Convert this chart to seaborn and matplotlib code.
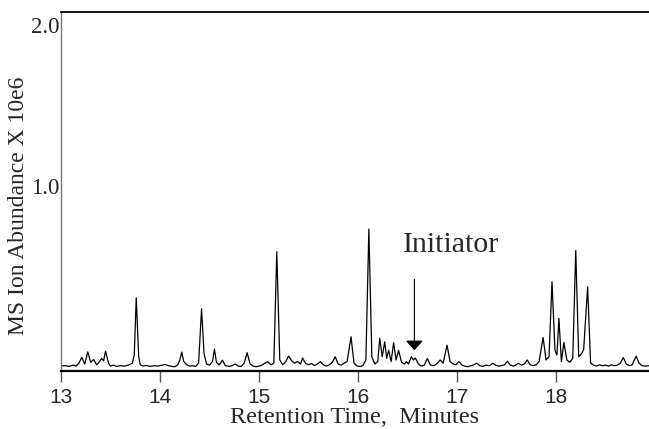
import numpy as np
import pandas as pd
import seaborn as sns
import matplotlib.pyplot as plt

# retention time (min) and MS ion abundance (x 10e6)
times = [
    13.00, 13.04, 13.08, 13.12, 13.15, 13.18, 13.21, 13.24, 13.27, 13.30,
    13.33, 13.36, 13.39, 13.41, 13.43, 13.45, 13.48, 13.50, 13.53, 13.56,
    13.60, 13.64, 13.68, 13.72, 13.74, 13.76, 13.785, 13.80, 13.83, 13.86,
    13.90, 13.94, 13.98, 14.02, 14.05, 14.08, 14.12, 14.15, 14.18, 14.20,
    14.22, 14.24, 14.27, 14.30, 14.33, 14.36, 14.39, 14.42, 14.445, 14.47,
    14.50, 14.53, 14.55, 14.57, 14.60, 14.63, 14.66, 14.70, 14.73, 14.76,
    14.79, 14.82, 14.85, 14.88, 14.91, 14.94, 14.97, 15.00, 15.03, 15.06,
    15.09, 15.12, 15.15, 15.18, 15.21, 15.24, 15.27, 15.30, 15.33, 15.36,
    15.39, 15.42, 15.44, 15.47, 15.50, 15.53, 15.56, 15.59, 15.62, 15.65,
    15.68, 15.71, 15.74, 15.77, 15.80, 15.83, 15.86, 15.89, 15.93, 15.96,
    15.99, 16.02, 16.05, 16.08, 16.11, 16.14, 16.17, 16.20, 16.22, 16.245,
    16.27, 16.29, 16.31, 16.335, 16.36, 16.385, 16.41, 16.44, 16.47, 16.49,
    16.51, 16.54, 16.56, 16.58, 16.61, 16.64, 16.67, 16.70, 16.73, 16.76,
    16.79, 16.83, 16.86, 16.90, 16.93, 16.96, 16.99, 17.02, 17.05, 17.08,
    17.11, 17.14, 17.17, 17.20, 17.23, 17.26, 17.29, 17.33, 17.36, 17.39,
    17.42, 17.45, 17.48, 17.51, 17.54, 17.57, 17.60, 17.62, 17.65, 17.68,
    17.71, 17.74, 17.77, 17.80, 17.83, 17.87, 17.90, 17.93, 17.96, 17.99,
    18.01, 18.03, 18.055, 18.08, 18.11, 18.14, 18.17, 18.20, 18.23, 18.26,
    18.28, 18.32, 18.35, 18.38, 18.41, 18.44, 18.47, 18.50, 18.53, 18.56,
    18.59, 18.62, 18.65, 18.68, 18.71, 18.74, 18.77, 18.81, 18.84, 18.87,
    18.90, 18.95,
]
abundance = [
    -0.118, -0.115, -0.120, -0.112, -0.118, -0.100, -0.064, -0.105, -0.030, -0.095,
    -0.077, -0.110, -0.090, -0.070, -0.085, -0.025, -0.100, -0.118, -0.112, -0.120,
    -0.115, -0.118, -0.112, -0.100, -0.050, 0.306, -0.060, -0.110, -0.118, -0.114,
    -0.120, -0.116, -0.118, -0.112, -0.108, -0.114, -0.120, -0.122, -0.110, -0.080,
    -0.031, -0.090, -0.110, -0.118, -0.116, -0.120, -0.100, 0.238, -0.040, -0.105,
    -0.112, -0.090, -0.013, -0.095, -0.110, -0.081, -0.115, -0.120, -0.114, -0.105,
    -0.118, -0.120, -0.100, -0.035, -0.105, -0.118, -0.122, -0.118, -0.112, -0.100,
    -0.091, -0.110, -0.100, 0.592, -0.080, -0.110, -0.090, -0.056, -0.085, -0.100,
    -0.090, -0.105, -0.068, -0.100, -0.110, -0.102, -0.115, -0.105, -0.090, -0.110,
    -0.118, -0.110, -0.095, -0.060, -0.105, -0.112, -0.100, -0.090, 0.064, -0.100,
    -0.118, -0.120, -0.115, -0.080, 0.733, -0.060, -0.105, -0.090, 0.055, -0.060,
    0.033, -0.070, -0.020, -0.090, 0.027, -0.080, -0.020, -0.095, -0.105, -0.090,
    -0.105, -0.060, -0.080, -0.068, -0.105, -0.118, -0.112, -0.070, -0.110, -0.115,
    -0.108, -0.080, -0.100, 0.012, -0.090, -0.105, -0.110, -0.090, -0.112, -0.118,
    -0.122, -0.116, -0.110, -0.100, -0.115, -0.120, -0.112, -0.116, -0.100, -0.112,
    -0.118, -0.115, -0.110, -0.088, -0.112, -0.118, -0.110, -0.100, -0.112, -0.105,
    -0.080, -0.110, -0.115, -0.110, -0.090, 0.060, -0.080, -0.060, 0.406, -0.020,
    -0.050, 0.178, -0.090, 0.029, -0.080, -0.095, -0.070, 0.600, -0.060, -0.040,
    -0.014, 0.375, -0.100, -0.112, -0.118, -0.110, -0.116, -0.112, -0.118, -0.110,
    -0.116, -0.112, -0.100, -0.065, -0.105, -0.115, -0.110, -0.056, -0.100, -0.115,
    -0.118, -0.115,
]

x_ticks = [13, 14, 15, 16, 17, 18]
y_ticks = [1.0, 2.0]
y_tick_labels = ["1.0", "2.0"]

arrow_time = 16.57
arrow_top = 0.42
arrow_tip = -0.02

df = pd.DataFrame({"time": times, "abundance": abundance})

sns.set_style("white")
serif = ["Liberation Serif", "DejaVu Serif"]
sans = ["Liberation Sans", "DejaVu Sans"]

fig = plt.figure(figsize=(6.49, 4.29), dpi=100)
ax = fig.add_axes([0.094, 0.135, 0.906, 0.837])

sns.lineplot(data=df, x="time", y="abundance", color="black", linewidth=0.9,
             sort=False, ax=ax)

ax.set_xlim(13, 18.94)
ax.set_ylim(-0.149, 2.081)

ax.set_xticks(x_ticks)
ax.set_xticklabels([str(t) for t in x_ticks], family=sans, fontsize=15)
ax.set_yticks(y_ticks)
ax.set_yticklabels(y_tick_labels, family=serif, fontsize=16.5)
ax.tick_params(axis="x", direction="out", length=8, width=1, color="#555555",
               pad=4, bottom=True)
ax.tick_params(axis="y", length=0, pad=1)

ax.set_xlabel("Retention Time,  Minutes", family=serif, fontsize=17.5, labelpad=0)
ax.set_ylabel("MS Ion Abundance X 10e6", family=serif, fontsize=17)
ax.yaxis.set_label_coords(-0.054, 0.46)

ax.spines["right"].set_visible(False)
ax.spines["left"].set_color("#777777")
ax.spines["left"].set_linewidth(1.0)
ax.spines["top"].set_color("black")
ax.spines["top"].set_linewidth(1.3)
ax.spines["bottom"].set_color("black")
ax.spines["bottom"].set_linewidth(1.6)

ax.annotate("", xy=(arrow_time, arrow_tip), xytext=(arrow_time, arrow_top),
            arrowprops=dict(arrowstyle="-|>,head_length=0.5,head_width=0.45",
                            color="black", lw=0.8, mutation_scale=12,
                            shrinkA=0, shrinkB=0))
ax.text(16.94, 0.634, "Initiator", family=serif, fontsize=21.5,
        ha="center", va="center")

fig.savefig("out.png", dpi=100)
